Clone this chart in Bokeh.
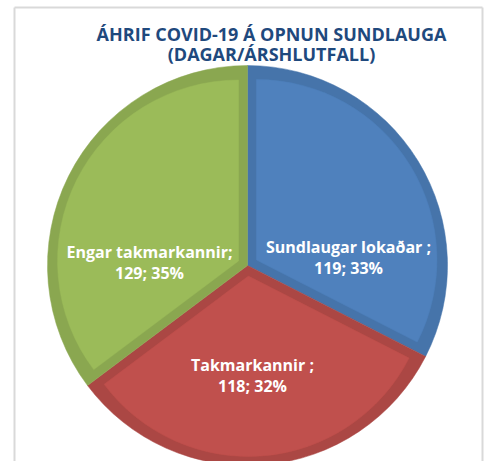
import numpy as np
from bokeh.plotting import figure
from bokeh.models import Range1d, ColumnDataSource, Label
from bokeh.embed import file_html
from bokeh.resources import INLINE

# data
categories = ["Sundlaugar lokaðar", "Takmarkannir", "Engar takmarkannir"]
days = [119, 118, 129]
percents = ["33%", "32%", "35%"]
label_line1 = ["Sundlaugar lokaðar ;", "Takmarkannir ;", "Engar takmarkannir;"]
title_lines = ["ÁHRIF COVID-19 Á OPNUN SUNDLAUGA", "(DAGAR/ÁRSHLUTFALL)"]

# styles
light = ["#4f81bd", "#c0504d", "#9bbb59"]
dark = ["#4674aa", "#ab4744", "#8aa750"]

# layout (screen-pixel data units, y pointing up => negative)
W, H = 488, 461
CX, CY, R, BAND = 247, -265, 200, 9
label_xy = [(348, -246), (252, -364), (149, -251)]
LINE_GAP = 21
title_xy = [(271, -33), (271, -53)]
frame_x = [14, 14, 482]
frame_y0 = [-461, -7, -7]
frame_x1 = [14, 482, 482]
frame_y1 = [-7, -7, -461]

vals = np.array(days, dtype=float)
frac = vals / vals.sum()
ends = np.pi / 2 - 2 * np.pi * np.cumsum(frac)
starts = np.concatenate([[np.pi / 2], ends[:-1]])
theta = starts - ends
mid = (starts + ends) / 2
shift = BAND / np.sin(theta / 2)
in_x = CX + shift * np.cos(mid)
in_y = CY + shift * np.sin(mid)
in_r = R - BAND - shift

p = figure(width=W, height=H, output_backend="svg", toolbar_location=None,
           x_range=Range1d(0, W), y_range=Range1d(-H, 0),
           min_border_left=0, min_border_right=0, min_border_top=0, min_border_bottom=0)
p.axis.visible = False
p.grid.visible = False
p.outline_line_color = None
p.background_fill_color = "white"
p.border_fill_color = "white"

p.segment(x0=frame_x, y0=frame_y0, x1=frame_x1, y1=frame_y1,
          line_color="#d9d9d9", line_width=2)

outer = ColumnDataSource(dict(start=list(starts), end=list(ends), color=dark))
p.wedge(x=CX, y=CY, radius=R, start_angle="start", end_angle="end", direction="clock",
        fill_color="color", line_color="color", line_width=0.5, source=outer)
inner = ColumnDataSource(dict(x=list(in_x), y=list(in_y), r=list(in_r),
                              start=list(starts), end=list(ends), color=light))
p.wedge(x="x", y="y", radius="r", start_angle="start", end_angle="end", direction="clock",
        fill_color="color", line_color="color", line_width=0.5, source=inner)

for i in range(len(categories)):
    lx, ly = label_xy[i]
    p.add_layout(Label(x=lx, y=ly, text=label_line1[i], text_align="center",
                       text_baseline="alphabetic", text_color="white", text_font="Open Sans",
                       text_font_style="bold", text_font_size="16px"))
    p.add_layout(Label(x=lx, y=ly - LINE_GAP, text=f"{days[i]}; {percents[i]}",
                       text_align="center", text_baseline="alphabetic", text_color="white",
                       text_font="Open Sans", text_font_style="bold", text_font_size="16px"))

for (tx, ty), t in zip(title_xy, title_lines):
    p.add_layout(Label(x=tx, y=ty, text=t, text_align="center", text_baseline="alphabetic",
                       text_color="#1f497d", text_font="Open Sans", text_font_style="bold",
                       text_font_size="18px"))

open("out.html", "w").write(file_html(p, INLINE))
